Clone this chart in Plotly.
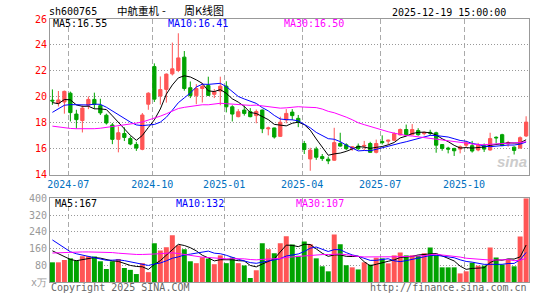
import pandas as pd
import plotly.graph_objects as go

# ---------------- data (weekly, 80 weeks ending 2025-12-19) ----------------
opens = [19.74, 19.50, 19.60, 20.28, 18.67, 18.17, 19.35, 19.80, 19.32, 18.58,
         17.83, 16.72, 17.17, 16.78, 16.33, 15.95, 19.43, 22.33, 20.06, 20.57,
         21.77, 22.03, 23.06, 20.70, 20.08, 20.64, 20.87, 20.19, 20.44, 20.82,
         19.23, 18.47, 18.98, 18.85, 18.55, 18.98, 17.53, 17.60, 16.95, 18.22,
         18.82, 18.34, 16.40, 15.21, 15.97, 15.39, 15.19, 15.11, 16.40, 16.30,
         16.00, 16.20, 16.20, 16.40, 15.72, 16.55, 16.58, 16.65, 17.06, 17.48,
         17.08, 17.40, 17.16, 17.26, 17.23, 16.32, 16.05, 16.02, 15.97, 16.27,
         16.23, 15.90, 16.23, 15.90, 16.88, 17.08, 16.38, 16.12, 16.05, 16.98]
highs = [20.57, 20.45, 20.48, 20.40, 19.00, 19.33, 20.03, 20.32, 19.85, 18.70,
         17.98, 17.70, 17.65, 16.95, 16.53, 18.75, 20.35, 22.58, 21.57, 21.80,
         24.18, 24.90, 23.53, 21.18, 20.98, 21.07, 21.55, 20.60, 21.55, 21.20,
         19.35, 19.05, 19.33, 19.13, 19.02, 19.02, 17.70, 17.62, 18.47, 19.05,
         19.05, 18.60, 16.60, 16.07, 16.15, 15.59, 15.39, 17.61, 17.23, 16.42,
         16.20, 16.40, 16.60, 16.53, 16.70, 17.03, 16.70, 17.26, 17.56, 17.86,
         17.90, 17.58, 17.31, 17.46, 17.31, 16.34, 16.15, 16.07, 16.25, 16.60,
         16.60, 16.45, 16.40, 17.23, 16.95, 17.15, 16.60, 16.18, 16.95, 18.50]
lows = [19.38, 19.25, 18.70, 18.10, 17.55, 17.25, 19.05, 19.07, 18.60, 17.86,
        16.35, 15.72, 16.59, 16.27, 15.83, 15.88, 19.00, 19.60, 19.40, 19.55,
        21.65, 21.90, 20.47, 19.90, 19.43, 19.56, 20.06, 19.90, 19.35, 18.80,
        18.10, 18.42, 18.55, 18.42, 17.96, 17.20, 17.03, 16.78, 16.90, 17.96,
        18.22, 17.66, 15.59, 14.30, 15.14, 15.06, 14.81, 15.06, 16.15, 15.89,
        15.84, 15.90, 15.89, 15.69, 15.64, 16.32, 16.32, 16.60, 17.03, 17.00,
        17.03, 17.00, 17.03, 17.03, 15.69, 15.84, 15.64, 15.44, 15.64, 16.10,
        15.70, 15.80, 15.75, 15.85, 16.40, 16.20, 16.15, 15.55, 16.00, 16.90]
closes = [19.68, 19.76, 20.42, 18.78, 18.24, 19.13, 19.80, 19.42, 18.76, 17.98,
          16.72, 17.23, 16.87, 16.36, 16.05, 18.60, 20.28, 19.82, 20.56, 21.75,
          22.16, 23.00, 20.64, 20.10, 20.64, 20.80, 20.11, 20.39, 20.82, 19.23,
          18.67, 18.85, 18.72, 18.47, 18.87, 17.54, 17.60, 16.90, 18.04, 18.72,
          18.55, 18.04, 15.94, 15.89, 15.34, 15.24, 15.06, 16.47, 16.20, 16.00,
          16.15, 16.00, 16.25, 15.72, 16.40, 16.47, 16.65, 17.16, 17.48, 17.08,
          17.48, 17.08, 17.26, 17.20, 16.27, 16.02, 15.97, 15.84, 16.15, 16.45,
          15.82, 16.27, 15.97, 16.78, 16.84, 16.23, 16.45, 15.87, 16.85, 18.05]
volumes = [94, 94, 105, 113, 103, 123, 123, 122, 99, 62,
           99, 110, 67, 58, 38, 90, 47, 185, 151, 166,
           223, 175, 157, 99, 90, 118, 112, 85, 127, 90,
           117, 90, 79, 19, 56, 185, 156, 137, 185, 218,
           179, 125, 194, 180, 113, 75, 51, 227, 180, 80,
           70, 60, 94, 83, 116, 113, 89, 127, 141, 127,
           127, 124, 137, 165, 128, 70, 70, 70, 41, 51,
           92, 78, 78, 165, 117, 83, 108, 75, 217, 400]
# weeks before the visible window (estimated from where the MA lines start)
prior_close = [21.95, 22.30, 20.05, 18.90, 19.50, 19.90, 18.90, 17.67, 16.27, 14.70,
               15.20, 14.85, 14.35, 14.05, 15.97, 16.18, 15.37, 15.53, 16.30, 16.23,
               16.80, 17.90, 18.30, 18.24, 19.00, 20.20, 18.80, 18.90, 20.20]
prior_volume = [44, 55, 63, 103, 123, 123, 122, 99, 62, 189,
                200, 157, 148, 38, 90, 47, 125, 91, 106, 163,
                285, 298, 295, 198, 189, 168, 174, 177, 132]

month_labels = ["2024-07", "2024-10", "2025-01", "2025-04", "2025-07", "2025-10"]
month_first_week = [3, 17, 29, 42, 55, 69]
price_ticks = [14, 16, 18, 20, 22, 24, 26]
vol_ticks = [0, 80, 160, 240, 320, 400]
vol_tick_text = ["x万", "80", "160", "240", "320", "400"]

# ---------------- styling ----------------
RED = "#FF5555"
GREEN = "#00A300"
MA_COLORS = {5: "#000000", 10: "#0000FF", 30: "#FF00FF"}
MONO = "DejaVu Sans Mono"
CJK = "Noto Sans CJK SC"
W, H = 545, 300
ML, MR, MT, MB = 50, 16, 19, 14
PW, PH = W - ML - MR, H - MT - MB


def fx(x):
    return (x - ML) / PW


def fy(y):
    return (H - MB - y) / PH


n = len(closes)
idx = list(range(n))
npri = len(prior_close)
c_all = pd.Series(prior_close + closes)
v_all = pd.Series(prior_volume + volumes)
ma_p = {k: c_all.rolling(k).mean().iloc[npri:].tolist() for k in (5, 10, 30)}
ma_v = {k: v_all.rolling(k).mean().iloc[npri:].tolist() for k in (5, 10, 30)}

fig = go.Figure()
fig.add_trace(go.Candlestick(
    x=idx, open=opens, high=highs, low=lows, close=closes,
    increasing=dict(line=dict(color=RED, width=1), fillcolor=RED),
    decreasing=dict(line=dict(color=GREEN, width=1), fillcolor=GREEN),
    whiskerwidth=0, xaxis="x", yaxis="y", showlegend=False, hoverinfo="skip"))
for k in (5, 10, 30):
    fig.add_trace(go.Scatter(x=idx, y=ma_p[k], mode="lines",
                             line=dict(color=MA_COLORS[k], width=1),
                             xaxis="x", yaxis="y", showlegend=False, hoverinfo="skip"))

bar_colors = [RED if c >= o else GREEN for o, c in zip(opens, closes)]
fig.add_trace(go.Bar(x=idx, y=volumes, marker=dict(color=bar_colors, line=dict(width=0)),
                     xaxis="x2", yaxis="y2", showlegend=False, hoverinfo="skip"))
for k in (5, 10, 30):
    fig.add_trace(go.Scatter(x=idx, y=ma_v[k], mode="lines",
                             line=dict(color=MA_COLORS[k], width=1),
                             xaxis="x2", yaxis="y2", showlegend=False, hoverinfo="skip"))

xr = [-0.4, n - 1 + 0.48]
tickpos = [m - 0.35 for m in month_first_week]
common_x = dict(range=xr, tickmode="array", tickvals=tickpos, showgrid=True,
                gridcolor="#AAAAAA", griddash="5px,3px", gridwidth=1,
                showline=True, linecolor="#999999", linewidth=1, mirror=True,
                ticks="", zeroline=False, fixedrange=True)
common_y = dict(showgrid=True, gridcolor="#999999", griddash="1px,2px", gridwidth=1,
                showline=True, linecolor="#999999", linewidth=1, mirror=True,
                ticks="", zeroline=False, fixedrange=True)

fig.update_layout(
    width=W, height=H, margin=dict(l=ML, r=MR, t=MT, b=MB),
    paper_bgcolor="white", plot_bgcolor="white",
    bargap=0.17, boxgap=0.22, showlegend=False,
    font=dict(family=MONO, size=10, color="#000000"),
    xaxis=dict(**common_x, domain=[0, 1], anchor="y", ticktext=month_labels,
               tickfont=dict(family=MONO, size=10, color="#0070C0"),
               rangeslider=dict(visible=False)),
    yaxis=dict(**common_y, domain=[fy(177), 1.0], anchor="x", range=[14, 26],
               tickmode="array", tickvals=price_ticks,
               tickfont=dict(family=MONO, size=10, color="#FF0000")),
    xaxis2=dict(**common_x, domain=[0, 1], anchor="y2", showticklabels=False),
    yaxis2=dict(**common_y, domain=[0, fy(201)], anchor="x2", range=[0, 400],
                tickmode="array", tickvals=vol_ticks, ticktext=vol_tick_text,
                tickfont=dict(family=MONO, size=10, color="#999999")),
)


def label(text, x, y, color="#000000", xanchor="left", size=10, family=MONO):
    fig.add_annotation(text=text, x=fx(x), y=fy(y), xref="paper", yref="paper",
                       xanchor=xanchor, yanchor="middle", showarrow=False,
                       font=dict(family=family, size=size, color=color))


label("sh600765", 47, 11)
label("中航重机", 115, 10, size=10.5, family=CJK)
label("-", 164, 10, xanchor="center", size=11, family=CJK)
label("周K线图", 182, 10, size=11, family=CJK)
label("2025-12-19 15:00:00", 508, 12, xanchor="right")
label(f"MA5:{16.55:.2f}", 51, 24, MA_COLORS[5])
label(f"MA10:{16.41:.2f}", 166, 24, MA_COLORS[10])
label(f"MA30:{16.50:.2f}", 282, 24, MA_COLORS[30])
label("MA5:167", 53, 206, MA_COLORS[5])
label("MA10:132", 174, 206, MA_COLORS[10])
label("MA30:107", 294, 206, MA_COLORS[30])
label("Copyright 2025 SINA.COM", 49, 292, "#666666")
label("http://finance.sina.com.cn", 529, 292, "#666666", xanchor="right")
label("<b><i>sina</i></b>", 512, 164, "#CCCCCC", xanchor="center", size=15, family="Arial")

fig.write_html("out.html")
